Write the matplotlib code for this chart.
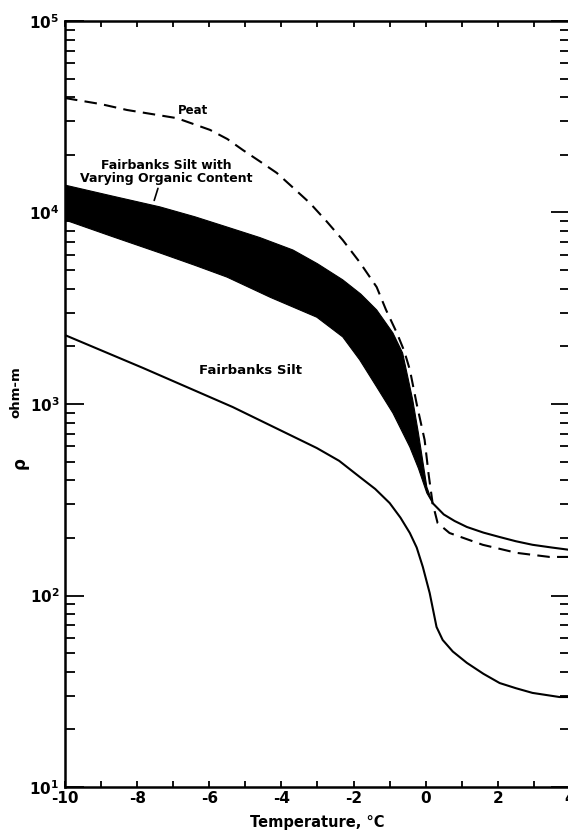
import numpy as np
import matplotlib.pyplot as plt
from matplotlib.ticker import FixedLocator, FuncFormatter, LogLocator, NullFormatter

plt.rcParams['font.family'] = ['DejaVu Sans']
plt.rcParams['font.weight'] = 'bold'
plt.rcParams['axes.unicode_minus'] = False

# Fairbanks Silt (solid, lower curve)
t_silt = [-10, -7.84, -5.35, -3.02, -2.4, -1.83, -1.4, -1.0, -0.7, -0.44, -0.25, -0.08, 0.11,
          0.30, 0.47, 0.75, 1.14, 1.6, 2.05, 2.5, 2.96, 3.71, 4.0]
rho_silt = [2290, 1543, 964, 589, 505, 416, 360, 304, 255, 212, 178, 141, 103,
            68.5, 58.6, 51, 44.5, 39, 34.9, 32.8, 31.0, 29.5, 29.5]

# Peat (dashed)
t_peat = [-10, -9, -8.28, -6.9, -5.98, -5.5, -5.07, -4.6, -4.13, -3.7, -3.21, -2.75, -2.30, -1.83,
          -1.36, -1.1, -0.80, -0.6, -0.44, -0.25, -0.03, 0.08, 0.19,
          0.33, 0.66, 1.58, 2.52, 3.43, 4.0]
rho_peat = [39600, 36800, 34300, 31100, 27000, 24200, 21200, 18500, 16100, 13600, 11200, 9000, 7180, 5500,
            4080, 3100, 2350, 1900, 1510, 1000, 649, 430, 304,
            239, 212, 184, 167, 159, 159]

# Fairbanks silt with varying organic content (band)
t_band_hi = [-10, -8.7, -7.37, -6.4, -5.51, -4.6, -3.68, -3.0, -2.30, -1.8, -1.36, -0.91, -0.64,
             -0.36, -0.2, 0.03, 0.19]
rho_band_hi = [13900, 12200, 10700, 9500, 8400, 7400, 6370, 5400, 4450, 3750, 3100, 2350, 1846,
               1050, 700, 369, 304]
t_band_lo = [-10, -8.7, -7.37, -6.4, -5.51, -4.3, -3.02, -2.30, -1.83, -1.36, -0.91, -0.44, -0.2,
             0.03, 0.19]
rho_band_lo = [9140, 7500, 6150, 5300, 4600, 3600, 2840, 2240, 1700, 1228, 897, 596, 460,
               343, 304]

# upper solid branch above 0 C (organic silt continuation)
t_org = [0.19, 0.5, 0.8, 1.14, 1.6, 2.05, 2.5, 2.96, 3.5, 4.0]
rho_org = [304, 265, 245, 228, 213, 202, 192, 184, 178, 173]

fig = plt.figure(figsize=(5.68, 8.33), dpi=100)
ax = fig.add_axes([65 / 568, 46 / 833, 505 / 568, 766 / 833])
ax.set_yscale('log')
ax.set_xlim(-10, 4)
ax.set_ylim(10, 1e5)

ax.fill(np.concatenate([t_band_hi, t_band_lo[::-1]]),
        np.concatenate([rho_band_hi, rho_band_lo[::-1]]), color='black', lw=0.8, ec='black')
ax.plot(t_org, rho_org, color='black', lw=1.5)
ax.plot(t_silt, rho_silt, color='black', lw=1.5)
ax.plot(t_peat, rho_peat, color='black', lw=1.5, dashes=(6, 3.5))

ax.text(-6.45, 3.4e4, 'Peat', fontsize=8.5, fontweight='bold', ha='center', va='center')
ax.text(-7.2, 1.62e4, 'Fairbanks Silt with\nVarying Organic Content', fontsize=9,
        fontweight='bold', ha='center', va='center', linespacing=1.0)
ax.annotate('', xy=(-7.55, 1.12e4), xytext=(-7.4, 1.38e4),
            arrowprops=dict(arrowstyle='-', color='black', lw=1.2))
ax.text(-4.85, 1.5e3, 'Fairbanks Silt', fontsize=9.5, fontweight='bold', ha='center', va='center')

for s in ax.spines.values():
    s.set_linewidth(1.8)

ax.xaxis.set_major_locator(FixedLocator([-10, -8, -6, -4, -2, 0, 2, 4]))
ax.xaxis.set_minor_locator(FixedLocator([-9, -7, -5, -3, -1, 1, 3]))
ax.yaxis.set_major_locator(LogLocator(base=10, numticks=10))
ax.yaxis.set_minor_locator(LogLocator(base=10, subs=np.arange(2, 10), numticks=20))
ax.yaxis.set_minor_formatter(NullFormatter())
ax.yaxis.set_major_formatter(FuncFormatter(lambda v, p: r'$\mathbf{10^{%d}}$' % round(np.log10(v))))

ax.tick_params(axis='x', which='both', direction='in', length=4, width=1.3, top=True,
               labelsize=11, pad=3)
ax.tick_params(axis='y', which='major', direction='in', length=14, width=1.3, right=True,
               labelsize=11, pad=4)
ax.tick_params(axis='y', which='minor', direction='in', length=7, width=1.3, right=True)
for lab in ax.get_xticklabels():
    lab.set_fontweight('bold')

ax.set_xlabel('Temperature, °C', fontsize=10.5, fontweight='bold', labelpad=6)
fig.text(20 / 568, 1 - 463 / 833, 'ρ', fontsize=12, fontweight='bold', rotation=90,
         ha='center', va='center')
fig.text(16 / 568, 1 - 392 / 833, 'ohm-m', fontsize=9.5, fontweight='bold', rotation=90,
         ha='center', va='center')

fig.savefig('out.png', dpi=100)
